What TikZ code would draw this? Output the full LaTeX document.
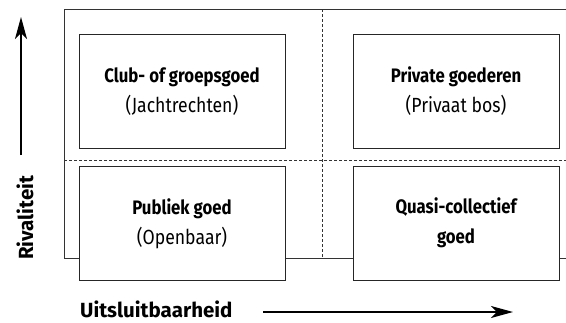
\documentclass[tikz,border=0pt]{standalone}
\usepackage{fontspec}
\setmainfont[FakeStretch=0.86]{Fira Sans}
\newfontfamily\axisfont{Fira Sans}
\usetikzlibrary{arrows.meta}
\begin{document}
\begin{tikzpicture}[x=1pt,y=-1pt,
  cell/.style={draw=black!85,line width=0.9pt,fill=white,minimum width=206pt,minimum height=114pt,anchor=north west,inner sep=0pt},
  title/.style={anchor=base,inner sep=0pt,font=\fontsize{19.5}{22}\selectfont\bfseries},
  sub/.style={anchor=base,inner sep=0pt,font=\fontsize{20.5}{22}\selectfont},
  grid/.style={black!80,line width=0.7pt,dash pattern=on 3pt off 2pt},
  frame/.style={black!80,line width=0.9pt},
  axis/.style={line width=1.5pt,-{Stealth[length=22pt,width=12pt,inset=6pt]}},
  axlabel/.style={font=\axisfont\fontsize{20.5}{22}\selectfont\bfseries,inner sep=0pt}]
\useasboundingbox (0,0) rectangle (566,322);
\draw[frame] (64,258) -- (64,9) -- (580,9);
\draw[frame] (64,258) -- (580,258);
\draw[grid] (322,9) -- (322,258);
\draw[grid] (64,160) -- (580,160);
\node[cell] (club) at (79,34) {};
\node[cell] (priv) at (353,34) {};
\node[cell] (publ) at (79,166) {};
\node[cell] (quasi) at (353,166) {};
\node[title] (clubt) at (182,82) {Club- of groepsgoed};
\node[sub] (clubs) at (182,112) {(Jachtrechten)};
\node[title] (privt) at (456,82) {Private goederen};
\node[sub] (privs) at (456,112) {(Privaat bos)};
\node[title] (publt) at (182,214) {Publiek goed};
\node[sub] (publs) at (182,244) {(Openbaar)};
\node[title] (quasit) at (456,213) {Quasi-collectief};
\node[title] (quasis) at (456,243) {goed};
\node[axlabel,rotate=90,anchor=base west] (riv) at (33,260) {Rivaliteit};
\coordinate (ya) at (21,155);
\coordinate (yb) at (21,17);
\draw[axis] (ya) -- (yb);
\node[axlabel,anchor=base west] (uit) at (80,317) {Uitsluitbaarheid};
\coordinate (xa) at (263,312);
\coordinate (xb) at (513,312);
\draw[axis] (xa) -- (xb);
\end{tikzpicture}
\end{document}
